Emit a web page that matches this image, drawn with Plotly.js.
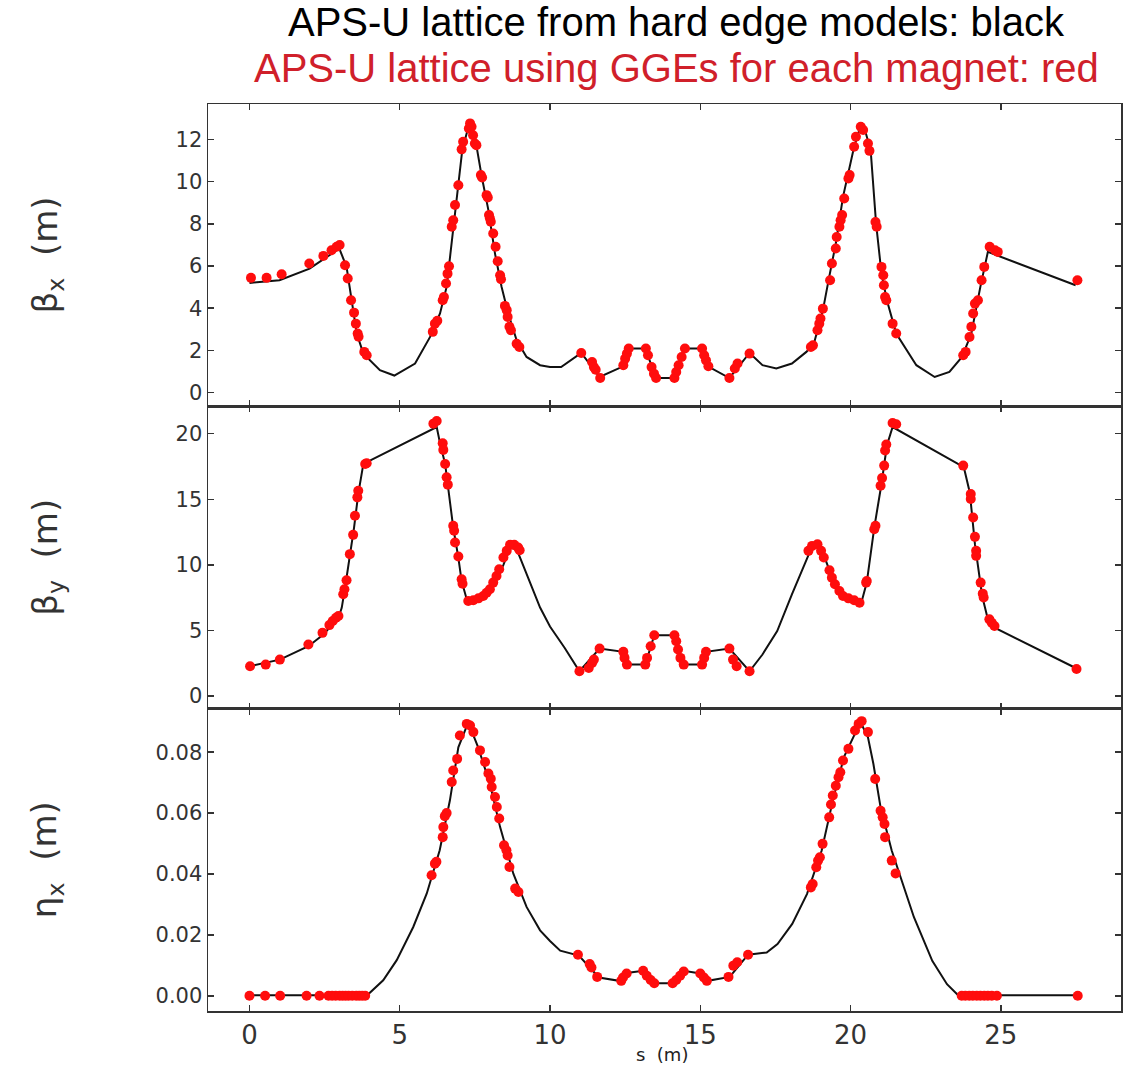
<!DOCTYPE html>
<html>
<head>
<meta charset="utf-8">
<script src="https://cdn.plot.ly/plotly-3.0.1.min.js"></script>
<style>html,body{margin:0;padding:0;background:#fff;}#chart{width:1134px;height:1065px;}</style>
</head>
<body>
<div id="chart"></div>
<script>
// ---- beta_x : hard edge model (black line) ----
const sBxHE = [0, 1.0, 2.0, 2.57, 2.99, 3.23, 3.40, 3.57, 3.79, 4.34, 4.82, 5.51, 6.01, 6.34, 6.56, 6.73, 6.89, 7.08, 7.34, 7.50, 7.73, 7.95, 8.17, 8.39, 8.61, 8.89, 9.22, 9.67, 10.0, 10.37, 11.04, 11.65, 12.38, 12.62, 13.17, 13.53, 14.14, 14.49, 15.06, 15.30, 15.97, 16.64, 17.07, 17.53, 18.05, 18.53, 18.78, 19.08, 19.27, 19.51, 19.75, 20.12, 20.36, 20.51, 20.67, 20.85, 21.03, 21.21, 21.52, 22.19, 22.80, 23.29, 23.71, 24.02, 24.32, 24.57, 27.49];
const bxHE = [5.2, 5.33, 5.88, 6.43, 6.83, 5.96, 4.38, 2.8, 1.85, 1.06, 0.81, 1.38, 2.64, 3.75, 5.01, 7.22, 9.12, 11.49, 12.9, 12.13, 10.23, 8.65, 6.59, 5.01, 3.75, 2.48, 1.69, 1.30, 1.21, 1.21, 1.88, 0.74, 1.21, 2.09, 2.09, 0.69, 0.69, 2.09, 2.09, 1.21, 0.69, 1.88, 1.30, 1.14, 1.38, 1.93, 2.32, 3.90, 5.33, 7.07, 9.28, 11.65, 12.75, 12.29, 11.49, 8.02, 5.65, 4.38, 2.80, 1.30, 0.74, 0.98, 1.69, 2.80, 5.01, 6.67, 5.09];
// ---- beta_x : GGE model (red markers) ----
const sBxGGE = [0.05, 0.57, 1.07, 1.99, 2.46, 2.73, 2.90, 3.0, 3.18, 3.27, 3.38, 3.48, 3.54, 3.6, 3.63, 3.82, 3.9,
  6.10, 6.17, 6.25, 6.43, 6.47, 6.54, 6.59, 6.64, 6.73, 6.78, 6.84, 6.95, 7.06, 7.11, 7.30, 7.34, 7.39, 7.44, 7.50, 7.55, 7.70, 7.74, 7.89, 7.93, 7.97, 8.0, 8.03, 8.11, 8.19, 8.26, 8.34, 8.37, 8.50, 8.56, 8.59, 8.65, 8.7, 8.89, 8.98,
  11.04, 11.40, 11.46, 11.52, 11.67, 12.44, 12.50, 12.56, 12.62, 13.19, 13.26, 13.38, 13.46, 13.53, 14.14, 14.20, 14.28, 14.38, 14.49, 15.06, 15.13, 15.19, 15.27, 15.97, 16.15, 16.24, 16.64,
  18.68, 18.75, 18.90, 18.96, 19.0, 19.08, 19.32, 19.38, 19.51, 19.54, 19.63, 19.67, 19.72, 19.79, 19.93, 19.97, 20.12, 20.18, 20.34, 20.42, 20.58, 20.63, 20.83, 20.87, 21.03, 21.09, 21.11, 21.15, 21.19, 21.40, 21.52,
  23.75, 23.83, 23.96, 24.02, 24.08, 24.14, 24.24, 24.36, 24.45, 24.63, 24.81, 24.90, 27.55];
const bxGGE = [5.44, 5.44, 5.61, 6.12, 6.48, 6.75, 6.91, 7.0, 6.04, 5.41, 4.38, 3.79, 3.27, 2.8, 2.65, 1.93, 1.77,
  2.88, 3.27, 3.41, 4.38, 4.53, 5.17, 5.64, 5.99, 7.86, 8.17, 8.89, 9.83, 11.53, 11.89, 12.52, 12.76, 12.6, 12.2, 11.81, 11.73, 10.31, 10.20, 9.36, 9.25, 8.42, 8.26, 8.1, 7.54, 6.91, 6.23, 5.56, 5.37, 4.11, 3.91, 3.59, 3.12, 2.96, 2.32, 2.16,
  1.88, 1.45, 1.21, 1.08, 0.69, 1.30, 1.61, 1.85, 2.09, 2.09, 1.77, 1.21, 0.9, 0.69, 0.69, 0.98, 1.30, 1.69, 2.09, 2.09, 1.77, 1.53, 1.25, 0.69, 1.14, 1.38, 1.85,
  2.16, 2.24, 2.96, 3.27, 3.51, 3.98, 5.33, 6.12, 6.83, 7.38, 7.86, 8.17, 8.42, 9.20, 10.15, 10.31, 11.65, 12.13, 12.60, 12.45, 11.81, 11.46, 8.09, 7.86, 5.96, 5.56, 5.09, 4.53, 4.38, 3.27, 2.80,
  1.77, 1.93, 2.64, 3.12, 3.75, 4.22, 4.38, 5.33, 5.96, 6.91, 6.75, 6.67, 5.33];

// ---- beta_y : hard edge model ----
const sByHE = [0, 1.01, 1.96, 2.46, 2.96, 3.07, 3.18, 3.34, 3.48, 3.62, 3.79, 6.23, 6.33, 6.51, 6.62, 6.78, 6.95, 7.06, 7.23, 7.51, 7.78, 8.12, 8.45, 8.67, 8.89, 9.22, 9.67, 10.0, 10.49, 10.98, 11.65, 12.44, 12.56, 13.17, 13.47, 14.14, 14.45, 15.06, 15.19, 15.97, 16.64, 17.07, 17.56, 18.05, 18.41, 18.66, 18.90, 19.14, 19.39, 19.75, 20.36, 20.54, 20.79, 21.03, 21.21, 21.40, 23.77, 23.97, 24.14, 24.38, 24.57, 24.81, 27.49];
const byHE = [2.27, 2.78, 3.80, 4.70, 5.97, 6.73, 8.26, 10.56, 12.85, 15.41, 17.70, 20.51, 19.4, 17.70, 15.66, 12.85, 10.56, 8.77, 7.37, 7.5, 7.8, 8.4, 10.0, 11.32, 11.2, 9.29, 6.75, 5.3, 3.67, 1.89, 3.62, 3.37, 2.40, 2.40, 4.64, 4.64, 2.40, 2.40, 3.37, 3.62, 1.89, 3.17, 4.95, 7.76, 9.80, 11.07, 11.45, 10.56, 9.03, 7.63, 7.12, 8.65, 12.85, 16.17, 19.1, 20.51, 17.45, 15.5, 11.58, 7.63, 5.85, 5.2, 2.14];
// ---- beta_y : GGE model ----
const sByGGE = [0.02, 0.54, 1.01, 1.96, 2.43, 2.66, 2.77, 2.88, 2.96, 3.12, 3.16, 3.23, 3.34, 3.45, 3.51, 3.59, 3.62, 3.85, 3.9,
  6.12, 6.23, 6.43, 6.45, 6.51, 6.56, 6.6, 6.78, 6.81, 6.84, 6.95, 7.06, 7.09, 7.28, 7.45, 7.62, 7.78, 7.89, 8.0, 8.11, 8.22, 8.31, 8.45, 8.56, 8.67, 8.81, 8.94, 8.99,
  10.98, 11.29, 11.40, 11.46, 11.65, 12.44, 12.48, 12.56, 13.17, 13.23, 13.35, 13.47, 14.14, 14.20, 14.26, 14.34, 14.45, 15.06, 15.13, 15.19, 15.97, 16.09, 16.21, 16.64,
  18.60, 18.72, 18.90, 19.02, 19.11, 19.30, 19.38, 19.48, 19.63, 19.75, 19.93, 20.12, 20.30, 20.52, 20.54, 20.79, 20.83, 21.0, 21.05, 21.12, 21.15, 21.19, 21.40, 21.52,
  23.75, 24.0, 24.0, 24.08, 24.14, 24.18, 24.18, 24.33, 24.40, 24.43, 24.62, 24.70, 24.79, 27.52];
const byGGE = [2.27, 2.40, 2.78, 3.93, 4.82, 5.41, 5.72, 5.97, 6.10, 7.76, 8.14, 8.83, 10.82, 12.29, 13.75, 15.15, 15.66, 17.70, 17.75,
  20.77, 20.97, 19.28, 18.77, 17.70, 16.68, 16.12, 12.98, 12.6, 11.71, 10.64, 8.90, 8.57, 7.25, 7.30, 7.45, 7.63, 7.88, 8.14, 8.65, 9.16, 9.67, 10.56, 11.07, 11.53, 11.53, 11.32, 11.12,
  1.89, 2.14, 2.52, 2.78, 3.62, 3.37, 2.91, 2.40, 2.40, 2.91, 3.80, 4.64, 4.64, 4.18, 3.55, 2.91, 2.40, 2.40, 2.91, 3.37, 3.62, 2.78, 2.27, 1.89,
  11.07, 11.45, 11.58, 11.07, 10.56, 9.59, 9.03, 8.52, 8.01, 7.63, 7.45, 7.30, 7.12, 8.65, 8.78, 12.72, 12.98, 16.04, 16.63, 17.57, 18.72, 19.18, 20.82, 20.72,
  17.57, 15.41, 15.03, 13.62, 12.14, 11.07, 10.69, 8.65, 7.81, 7.51, 5.85, 5.59, 5.34, 2.07];

// ---- eta_x : hard edge model ----
const sEtaHE = [0, 3.84, 3.95, 4.45, 4.90, 5.45, 5.90, 6.33, 6.67, 6.95, 7.28, 7.61, 8.00, 8.34, 8.78, 9.22, 9.67, 10.0, 10.34, 10.96, 11.63, 12.30, 12.55, 13.10, 13.47, 14.14, 14.45, 15.0, 15.25, 15.98, 16.59, 17.21, 17.57, 18.06, 18.55, 19.04, 19.41, 19.78, 20.33, 20.58, 20.76, 21.0, 21.37, 21.74, 22.11, 22.72, 23.21, 23.58, 27.56];
const etaHE = [0.0002, 0.0002, 0.0005, 0.0051, 0.0117, 0.0226, 0.0336, 0.0478, 0.0642, 0.0816, 0.0898, 0.0816, 0.0696, 0.0554, 0.0401, 0.0292, 0.0215, 0.0180, 0.0148, 0.0132, 0.0060, 0.0049, 0.0075, 0.0082, 0.0041, 0.0041, 0.0082, 0.0073, 0.0049, 0.0062, 0.0135, 0.0142, 0.0170, 0.0236, 0.0334, 0.0477, 0.0641, 0.0784, 0.0899, 0.0849, 0.0762, 0.0619, 0.0477, 0.0367, 0.0258, 0.0115, 0.0038, 0.0002, 0.0002];
// ---- eta_x : GGE model ----
const sEtaGGE = [0, 0.52, 1.02, 1.9, 2.33, 2.63, 2.75, 2.87, 3.0, 3.1, 3.2, 3.3, 3.42, 3.55, 3.65, 3.75, 3.85,
  6.06, 6.17, 6.22, 6.43, 6.45, 6.50, 6.56, 6.73, 6.78, 6.91, 7.0, 7.23, 7.34, 7.45, 7.67, 7.84, 7.95, 8.03, 8.06, 8.17, 8.23, 8.31, 8.47, 8.55, 8.59, 8.65, 8.84, 8.95,
  10.93, 11.32, 11.38, 11.57, 12.37, 12.43, 12.55, 13.10, 13.22, 13.35, 13.47, 14.08, 14.20, 14.33, 14.45, 15.0, 15.12, 15.22, 15.94, 16.10, 16.23, 16.59,
  18.68, 18.74, 18.86, 18.92, 18.98, 19.07, 19.29, 19.35, 19.41, 19.51, 19.60, 19.66, 19.75, 19.93, 20.15, 20.27, 20.37, 20.58, 20.82, 21.0, 21.07, 21.13, 21.15, 21.37, 21.50,
  23.70, 23.82, 23.95, 24.07, 24.2, 24.32, 24.45, 24.57, 24.7, 24.87, 27.56];
const etaGGE = [0, 0, 0, 0, 0, 0, 0, 0, 0, 0, 0, 0, 0, 0, 0, 0, 0,
  0.0396, 0.0434, 0.044, 0.0521, 0.0554, 0.059, 0.060, 0.0702, 0.074, 0.0778, 0.0855, 0.0893, 0.0888, 0.0866, 0.0806, 0.0768, 0.073, 0.0713, 0.0686, 0.0653, 0.062, 0.0582, 0.0494, 0.0478, 0.0461, 0.0423, 0.0352, 0.0341,
  0.0135, 0.0104, 0.0093, 0.0062, 0.0049, 0.0060, 0.0073, 0.0082, 0.0066, 0.0052, 0.0041, 0.0041, 0.0052, 0.0066, 0.008, 0.0073, 0.006, 0.0049, 0.0062, 0.0099, 0.011, 0.0135,
  0.0356, 0.0367, 0.0422, 0.0444, 0.0455, 0.0499, 0.0586, 0.0628, 0.0658, 0.069, 0.0718, 0.0734, 0.0773, 0.0811, 0.0871, 0.0893, 0.0902, 0.0866, 0.0712, 0.0608, 0.0586, 0.0564, 0.0521, 0.0444, 0.0402,
  0, 0, 0, 0, 0, 0, 0, 0, 0, 0, 0];

const xTickVals = [0, 5, 10, 15, 20, 25];
const titleLine1 = "APS-U lattice from hard edge models: black";
const titleLine2 = "APS-U lattice using GGEs for each magnet: red";
const yTitles = ["β<sub>x</sub>&nbsp;&nbsp;(m)", "β<sub>y</sub>&nbsp;&nbsp;(m)", "η<sub>x</sub>&nbsp;&nbsp;(m)"];
const xTitle = "s&nbsp;&nbsp;(m)";

const lineStyle = {color: '#111111', width: 2};
const markerStyle = {color: '#ff0d0d', size: 10, symbol: 'circle'};

const traces = [
  {x: sBxHE, y: bxHE, xaxis: 'x', yaxis: 'y', mode: 'lines', line: lineStyle},
  {x: sBxGGE, y: bxGGE, xaxis: 'x', yaxis: 'y', mode: 'markers', marker: markerStyle},
  {x: sByHE, y: byHE, xaxis: 'x2', yaxis: 'y2', mode: 'lines', line: lineStyle},
  {x: sByGGE, y: byGGE, xaxis: 'x2', yaxis: 'y2', mode: 'markers', marker: markerStyle},
  {x: sEtaHE, y: etaHE, xaxis: 'x3', yaxis: 'y3', mode: 'lines', line: lineStyle},
  {x: sEtaGGE, y: etaGGE, xaxis: 'x3', yaxis: 'y3', mode: 'markers', marker: markerStyle}
];

const tickFont = {family: 'DejaVu Sans', size: 21, color: '#333'};
function xAx(anchor, labels) {
  return {domain: [0, 1], anchor: anchor, range: [-1.38, 29.0], tickvals: xTickVals,
    ticks: 'inside', ticklen: 6, tickwidth: 1.5, tickcolor: '#333',
    showline: true, linecolor: '#333', linewidth: 1.5, mirror: 'ticks',
    showgrid: false, zeroline: false, showticklabels: labels,
    tickfont: {family: 'DejaVu Sans', size: 26, color: '#333'}};
}
function yAx(anchor, dom, range, dtick, fmt) {
  return {domain: dom, anchor: anchor, range: range, dtick: dtick, tick0: 0, tickformat: fmt,
    ticks: 'inside', ticklen: 6, tickwidth: 1.5, tickcolor: '#333',
    showline: true, linecolor: '#333', linewidth: 1.5, mirror: 'ticks',
    showgrid: false, zeroline: false, tickfont: tickFont};
}

const layout = {
  width: 1134, height: 1065,
  margin: {l: 208, r: 13, t: 104, b: 54},
  paper_bgcolor: '#fff', plot_bgcolor: '#fff',
  showlegend: false, hovermode: false,
  xaxis: xAx('y', false),
  yaxis: yAx('x', [2/3, 1], [-0.65, 13.68], 2, 'd'),
  xaxis2: xAx('y2', false),
  yaxis2: yAx('x2', [1/3, 2/3], [-0.96, 22.09], 5, 'd'),
  xaxis3: xAx('y3', true),
  yaxis3: yAx('x3', [0, 1/3], [-0.005, 0.0943], 0.02, '.2f'),
  annotations: [
    {text: titleLine1, xref: 'paper', yref: 'paper', x: 0.5126, y: 1.0904, xanchor: 'center', yanchor: 'middle', showarrow: false,
      font: {family: 'Liberation Sans', size: 40, color: '#000'}},
    {text: titleLine2, xref: 'paper', yref: 'paper', x: 0.5126, y: 1.0397, xanchor: 'center', yanchor: 'middle', showarrow: false,
      font: {family: 'Liberation Sans', size: 40, color: '#d0202a'}},
    {text: yTitles[0], xref: 'paper', yref: 'paper', x: -0.176, y: 5/6, xanchor: 'center', yanchor: 'middle', textangle: -90, showarrow: false,
      font: {family: 'DejaVu Sans', size: 34, color: '#333'}},
    {text: yTitles[1], xref: 'paper', yref: 'paper', x: -0.176, y: 0.5, xanchor: 'center', yanchor: 'middle', textangle: -90, showarrow: false,
      font: {family: 'DejaVu Sans', size: 34, color: '#333'}},
    {text: yTitles[2], xref: 'paper', yref: 'paper', x: -0.176, y: 1/6, xanchor: 'center', yanchor: 'middle', textangle: -90, showarrow: false,
      font: {family: 'DejaVu Sans', size: 34, color: '#333'}},
    {text: xTitle, xref: 'paper', yref: 'paper', x: 0.497, y: -0.0485, xanchor: 'center', yanchor: 'middle', showarrow: false,
      font: {family: 'DejaVu Sans', size: 18, color: '#222'}}
  ]
};

Plotly.newPlot('chart', traces, layout, {displayModeBar: false, staticPlot: true});
</script>
</body>
</html>
